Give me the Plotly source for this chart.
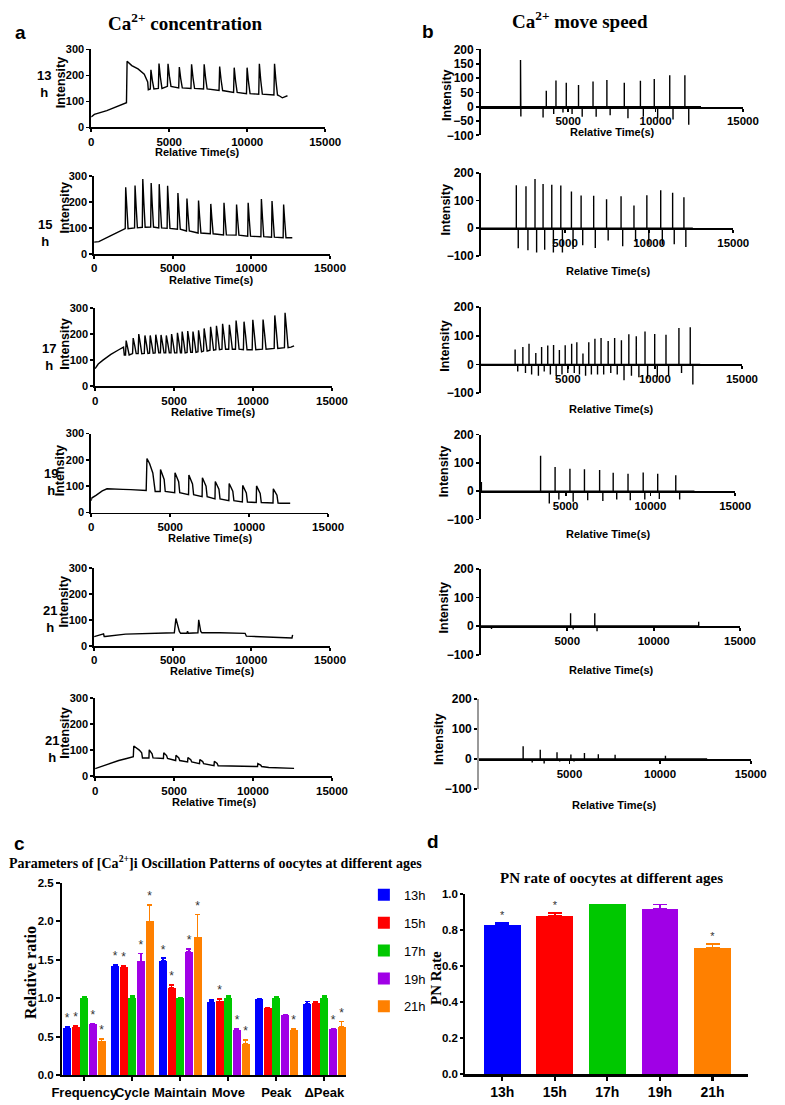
import plotly.graph_objects as go

# ======================= DATA =======================
time_ticks = [0, 5000, 10000, 15000]
time_labels = ["0", "5000", "10000", "15000"]
conc_ticks = [0, 100, 200, 300]
speed_ticks = [-100, 0, 100, 200]
speed_ticks_fine = [-100, -50, 0, 50, 100, 150, 200]

# ---- panel a: Ca2+ concentration traces (time s, intensity) ----
# 13 h
c13_pre_t = [0, 200, 1000, 2000, 2200, 2260, 2300, 2600, 3000, 3400, 3620, 3660]
c13_pre_y = [40, 50, 65, 88, 95, 95, 255, 238, 225, 205, 175, 145]
c13_pk_t = [3828, 4345, 4924, 5648, 6434, 7241, 8234, 9166, 9993, 10779, 11752]
c13_pk_y = [222, 246, 245, 232, 243, 243, 234, 230, 230, 245, 245]
c13_bs_y = [148, 150, 158, 152, 150, 148, 142, 135, 130, 128, 125]
c13_post_t = [12100, 12250, 12400, 12580]
c13_post_y = [120, 114, 118, 122]
# 15 h
c15_pre_t = [0, 300, 1000, 1900]
c15_pre_y = [45, 47, 68, 95]
c15_pk_t = [2008, 2602, 3094, 3627, 4139, 4672, 5328, 5902, 6639, 7418, 8258, 9057, 9795, 10635, 11311, 12049]
c15_pk_y = [256, 263, 288, 272, 268, 262, 234, 213, 205, 192, 196, 190, 196, 211, 203, 190]
c15_bs_y = [97, 100, 102, 103, 100, 98, 95, 88, 80, 77, 73, 72, 68, 66, 64, 62]
c15_post_t = [12600]
c15_post_y = [62]
# 17 h
c17_pre_t = [0, 200, 500, 1000, 1500, 1800, 1850]
c17_pre_y = [67, 85, 100, 122, 140, 150, 120]
c17_pk_t = [1968, 2413, 2766, 3156, 3490, 3843, 4177, 4511, 4845, 5216, 5514, 5866, 6200,
            6553, 6906, 7314, 7686, 8075, 8502, 8929, 9431, 9988, 10637, 11380, 12030]
c17_pk_y = [175, 185, 200, 195, 195, 198, 197, 195, 200, 205, 210, 212, 210,
            215, 222, 228, 232, 240, 236, 252, 248, 255, 256, 272, 282]
c17_bs_y = [120, 125, 125, 126, 127, 128, 128, 128, 128, 128, 128, 130, 130,
            132, 135, 138, 140, 142, 142, 142, 140, 140, 142, 145, 148]
c17_post_t = [12400, 12600]
c17_post_y = [150, 155]
# 19 h
c19_pre_t = [0, 30, 300, 700, 1000, 1500, 2000, 2500, 3000, 3480, 3530, 3700, 3900, 3960, 4050]
c19_pre_y = [45, 55, 65, 82, 90, 88, 88, 87, 86, 84, 205, 185, 150, 120, 80]
c19_pk_t = [4388, 5306, 6184, 7041, 7857, 8735, 9592, 10469, 11531]
c19_pk_y = [163, 151, 142, 132, 118, 110, 103, 101, 90]
c19_bs_y = [80, 75, 68, 60, 52, 45, 40, 38, 36]
c19_post_t = [12000, 12600]
c19_post_y = [35, 35]
# 21 h (first oocyte)
c21a_t = [0, 300, 600, 640, 700, 2000, 4000, 5100, 5200, 5300, 5420, 5500, 5900, 5940, 5990,
          6600, 6650, 6780, 6850, 8000, 9600, 9680, 11000, 12000, 12580, 12620]
c21a_y = [35, 40, 46, 36, 36, 45, 48, 50, 105, 80, 55, 48, 48, 56, 48,
          50, 100, 55, 50, 50, 48, 37, 33, 30, 30, 42]
# 21 h (second oocyte)
c21b_pre_t = [0, 500, 1000, 1500, 2000, 2420, 2450, 2600, 2800, 2950, 3000]
c21b_pre_y = [29, 40, 50, 60, 68, 75, 116, 110, 100, 90, 70]
c21b_pk_t = [3429, 4347, 5122, 5878, 6633, 7551, 10306]
c21b_pk_y = [101, 90, 80, 71, 64, 57, 48]
c21b_bs_y = [70, 68, 60, 55, 48, 40, 37]
c21b_post_t = [11000, 12000, 12600]
c21b_post_y = [33, 30, 30]

# ---- panel b: Ca2+ move speed spikes ----
s13_pos_t = [2269, 3745, 4299, 4889, 5590, 6421, 7214, 8210, 9133, 9926, 10812, 11679]
s13_pos_v = [163, 56, 92, 84, 76, 88, 93, 84, 91, 97, 110, 110]
s13_neg_t = [2290, 3561, 4170, 4700, 5221, 5800, 6600, 7400, 8420, 9300, 10120, 11000, 11900]
s13_neg_v = [-34, -38, -25, -20, -25, -35, -35, -30, -40, -35, -40, -45, -63]

s15_pos_t = [2107, 2682, 3218, 3697, 4215, 4751, 5383, 5958, 6705, 7471, 8333, 9100, 9866, 10690, 11398, 12069]
s15_pos_v = [155, 152, 178, 160, 157, 154, 133, 118, 117, 105, 115, 82, 119, 137, 128, 112]
s15_neg_t = [2222, 2797, 3314, 3793, 4310, 4847, 5479, 6054, 6801, 7567, 8429, 9195, 9981, 10785, 11494, 12184]
s15_neg_v = [-73, -80, -88, -78, -88, -88, -75, -62, -72, -45, -65, -48, -60, -60, -58, -68]

s17_pos_t = [1968, 2413, 2766, 3156, 3490, 3843, 4177, 4511, 4845, 5216, 5514, 5866, 6200,
             6553, 6906, 7314, 7686, 8075, 8502, 8929, 9431, 9988, 10637, 11380, 12030]
s17_pos_v = [52, 61, 72, 40, 61, 66, 68, 50, 67, 72, 77, 38, 77, 90, 92, 82, 92, 84, 105, 98, 115, 106, 104, 127, 130]
s17_neg_t = [2118, 2563, 2916, 3306, 3640, 3993, 4327, 4661, 4995, 5366, 5664, 6016, 6350,
             6703, 7056, 7464, 7836, 8225, 8652, 9079, 9581, 10138, 10787, 11530, 12180]
s17_neg_v = [-25, -30, -35, -40, -25, -35, -40, -35, -30, -30, -35, -40, -35,
             -35, -35, -30, -35, -55, -40, -45, -50, -45, -40, -30, -70]

s19_pos_t = [30, 3522, 4378, 5254, 6110, 7005, 7805, 8680, 9575, 10431, 11497]
s19_pos_v = [32, 125, 85, 79, 77, 75, 65, 61, 66, 61, 56]
s19_neg_t = [4036, 4600, 5444, 6301, 7195, 8014, 8813, 9670, 10527, 11726]
s19_neg_v = [-44, -30, -38, -32, -35, -30, -32, -30, -28, -30]

s21a_pos_t = [5193, 6594, 12609]
s21a_pos_v = [45, 45, 15]
s21a_neg_t = [616, 5342, 6725]
s21a_neg_v = [-10, -12, -18]

s21b_pos_t = [2440, 3385, 4311, 5077, 5825, 6591, 7518, 10297]
s21b_pos_v = [43, 31, 23, 15, 20, 16, 14, 11]
s21b_neg_t = [2940, 3600, 4460, 5250, 6000, 6750, 7650, 10450]
s21b_neg_v = [-12, -15, -8, -8, -6, -6, -5, -4]

ages_a = ["13", "15", "17", "19", "21", "21"]

# ---- panel c: oscillation parameters ----
param_groups = ["Frequency", "Cycle", "Maintain", "Move", "Peak", "ΔPeak"]
age_labels = ["13h", "15h", "17h", "19h", "21h"]
ratio_13h = [0.62, 1.42, 1.49, 0.95, 0.99, 0.93]
ratio_15h = [0.63, 1.40, 1.14, 0.96, 0.88, 0.94]
ratio_17h = [1.01, 1.01, 1.01, 1.01, 1.01, 1.01]
ratio_19h = [0.66, 1.48, 1.60, 0.59, 0.78, 0.60]
ratio_21h = [0.44, 2.00, 1.79, 0.41, 0.59, 0.63]
err_13h = [0.005, 0.02, 0.03, 0.03, 0.01, 0.03]
err_15h = [0.01, 0.02, 0.03, 0.03, 0.0, 0.02]
err_17h = [0.01, 0.02, 0.0, 0.02, 0.01, 0.02]
err_19h = [0.01, 0.10, 0.04, 0.01, 0.01, 0.01]
err_21h = [0.03, 0.21, 0.30, 0.05, 0.02, 0.07]
sig_13h = [1, 1, 1, 0, 0, 0]
sig_15h = [1, 1, 1, 1, 0, 0]
sig_17h = [0, 0, 0, 0, 0, 0]
sig_19h = [1, 1, 1, 1, 0, 1]
sig_21h = [1, 1, 1, 1, 1, 1]

# ---- panel d: PN rate ----
pn_rate = [0.825, 0.875, 0.94, 0.915, 0.70]
pn_err = [0.012, 0.018, 0.0, 0.025, 0.022]
pn_sig = [1, 1, 0, 0, 1]

# ======================= STYLE / LAYOUT =======================
W, H = 785, 1105
COLORS = ["#0000FF", "#FF0000", "#00C800", "#A000E6", "#FF8000"]
SANS = "Liberation Sans"
SERIF = "Liberation Serif"


def px(x):
    return x / W


def py(y):
    return 1 - y / H


A_BOX = [(84, 326, 43, 122), (87, 331, 171, 250), (88, 333, 305, 384),
         (84, 329, 432, 512), (87, 331, 568, 647), (88, 333, 700, 779)]
B_BOX = [(487, 758, 43, 130), (487, 748, 168, 252), (487, 757, 304, 391),
         (487, 750, 433, 519), (487, 755, 569, 656), (485, 766, 701, 792)]
A_TITLE_POS = [(194, 147), (208, 276), (210, 410), (207, 538), (209, 673), (211, 805)]
B_TITLE_POS = [(623, 127), (619, 267), (622, 407), (619, 534), (622, 672), (625, 808)]
A_INT_POS = [(53, 77), (57, 204), (57, 342), (52, 470), (56, 603), (57, 736)]
B_INT_POS = [(452, 90), (451, 206), (450, 344), (449, 471), (449, 609), (443, 742)]
A_AGE_POS = [(35, 78), (36, 229), (40, 354), (42, 481), (41, 620), (43, 752)]
C_BOX = (54, 348, 887, 1082)
D_BOX = (471, 763, 898, 1081)


def ca_points(pre_t, pre_y, pk_t, pk_y, bs_y, post_t, post_y, rise, shoulder, frac, fall):
    xs, ys = list(pre_t), list(pre_y)
    for t, p, b in zip(pk_t, pk_y, bs_y):
        xs += [t - rise, t, t + shoulder, t + fall]
        ys += [b, p, b + frac * (p - b), b]
    xs += list(post_t)
    ys += list(post_y)
    return xs, ys


def spike_points(pos_t, pos_v, neg_t, neg_v, end_t=12600):
    ev = sorted(list(zip(pos_t, pos_v)) + list(zip(neg_t, neg_v)))
    xs, ys = [0], [0]
    for t, v in ev:
        xs += [t, t, t]
        ys += [0, v, 0]
    xs.append(max(end_t, ev[-1][0]))
    ys.append(0)
    return xs, ys


conc_series = [
    ca_points(c13_pre_t, c13_pre_y, c13_pk_t, c13_pk_y, c13_bs_y, c13_post_t, c13_post_y, 40, 90, 0.45, 190),
    ca_points(c15_pre_t, c15_pre_y, c15_pk_t, c15_pk_y, c15_bs_y, c15_post_t, c15_post_y, 30, 70, 0.5, 150),
    ca_points(c17_pre_t, c17_pre_y, c17_pk_t, c17_pk_y, c17_bs_y, c17_post_t, c17_post_y, 40, 100, 0.5, 190),
    ca_points(c19_pre_t, c19_pre_y, c19_pk_t, c19_pk_y, c19_bs_y, c19_post_t, c19_post_y, 20, 230, 0.55, 300),
    (c21a_t, c21a_y),
    ca_points(c21b_pre_t, c21b_pre_y, c21b_pk_t, c21b_pk_y, c21b_bs_y, c21b_post_t, c21b_post_y, 20, 180, 0.5, 240),
]
speed_series = [
    spike_points(s13_pos_t, s13_pos_v, s13_neg_t, s13_neg_v),
    spike_points(s15_pos_t, s15_pos_v, s15_neg_t, s15_neg_v),
    spike_points(s17_pos_t, s17_pos_v, s17_neg_t, s17_neg_v),
    spike_points(s19_pos_t, s19_pos_v, s19_neg_t, s19_neg_v),
    spike_points(s21a_pos_t, s21a_pos_v, s21a_neg_t, s21a_neg_v),
    spike_points(s21b_pos_t, s21b_pos_v, s21b_neg_t, s21b_neg_v),
]


def axis_style(size, lw=1.8, tl=3):
    return dict(showline=True, linecolor="black", linewidth=lw, ticks="outside", ticklen=tl,
                tickwidth=lw, tickcolor="black", showgrid=False, zeroline=False, tickangle=0,
                tickfont=dict(family=SANS, size=size, color="black", weight="bold"))


fig = go.Figure()
layout = dict(width=W, height=H, margin=dict(l=0, r=0, t=0, b=0, pad=0),
              paper_bgcolor="white", plot_bgcolor="white")
annotations = []


def ann(text, x, y, size, family=SANS, angle=0, xanchor="center"):
    annotations.append(dict(text=text, x=px(x), y=py(y), xref="paper", yref="paper",
                            showarrow=False, xanchor=xanchor, yanchor="middle", textangle=angle,
                            borderpad=0,
                            font=dict(family=family, size=size, color="black")))


# ---- panel a ----
for i in range(6):
    n = i + 1
    x0, x1, y0, y1 = A_BOX[i]
    xs, ys = conc_series[i]
    fig.add_trace(go.Scatter(x=xs, y=ys, mode="lines", line=dict(color="black", width=1.4),
                             xaxis=f"x{n}", yaxis=f"y{n}", showlegend=False, hoverinfo="skip"))
    xa = axis_style(11.5)
    xa.update(domain=[px(x0), px(x1)], anchor=f"y{n}", range=[0, 15000], tickvals=time_ticks,
              ticktext=time_labels)
    ya = axis_style(11)
    ya.update(domain=[py(y1), py(y0)], anchor=f"x{n}", range=[0, 300], tickvals=conc_ticks)
    layout[f"xaxis{n}"] = xa
    layout[f"yaxis{n}"] = ya
    ann("<b>Relative Time(s)</b>", *A_TITLE_POS[i], 11)
    ann("<b>Intensity</b>", *A_INT_POS[i], 12.5, angle=-90)
    ann(f"<b>{ages_a[i]}<br>h</b>", *A_AGE_POS[i], 13)

# ---- panel b ----
for i in range(6):
    n = i + 7
    x0, x1, y0, y1 = B_BOX[i]
    xs, ys = speed_series[i]
    fig.add_trace(go.Scatter(x=xs, y=ys, mode="lines", line=dict(color="black", width=1.4),
                             xaxis=f"x{n}", yaxis=f"y{n}", showlegend=False, hoverinfo="skip"))
    yzero = y0 + (200 / 300) * (y1 - y0)
    xa = axis_style(11.5)
    xa.update(domain=[px(x0), px(x1)], anchor="free", position=py(yzero), range=[0, 15000],
              tickvals=time_ticks[1:], ticktext=time_labels[1:])
    ya = axis_style(12)
    ya.update(domain=[py(y1), py(y0)], anchor=f"x{n}", range=[-100, 200],
              tickvals=speed_ticks_fine if i == 0 else speed_ticks)
    if i == 5:
        ya.update(linecolor="#999999")
    layout[f"xaxis{n}"] = xa
    layout[f"yaxis{n}"] = ya
    ann("<b>Relative Time(s)</b>", *B_TITLE_POS[i], 11)
    ann("<b>Intensity</b>", *B_INT_POS[i], 12.5, angle=-90)

# ---- panel c ----
ratios = [ratio_13h, ratio_15h, ratio_17h, ratio_19h, ratio_21h]
errs = [err_13h, err_15h, err_17h, err_19h, err_21h]
sigs = [sig_13h, sig_15h, sig_17h, sig_19h, sig_21h]
group_pos = list(range(len(param_groups)))
for k in range(5):
    xs = [g + (k - 2) * 0.18 for g in group_pos]
    fig.add_trace(go.Bar(x=xs, y=ratios[k], width=0.166, marker=dict(color=COLORS[k], line=dict(width=0)),
                         error_y=dict(type="data", symmetric=False, array=errs[k],
                                      arrayminus=[0] * len(errs[k]), color=COLORS[k], thickness=1.5, width=2.5),
                         name=age_labels[k], legendgroup=age_labels[k],
                         xaxis="x13", yaxis="y13", hoverinfo="skip"))
    sx = [x for x, s in zip(xs, sigs[k]) if s]
    sy = [v + e + 0.1 for v, e, s in zip(ratios[k], errs[k], sigs[k]) if s]
    if sx:
        fig.add_trace(go.Scatter(x=sx, y=sy, mode="text", text=["*"] * len(sx),
                                 textfont=dict(family=SANS, size=12, color="#333333"),
                                 xaxis="x13", yaxis="y13", showlegend=False, hoverinfo="skip"))
x0, x1, y0, y1 = C_BOX
xa = axis_style(13, 2.2, 4)
xa.update(domain=[px(x0), px(x1)], anchor="y13", range=[-0.46, 5.46], tickvals=group_pos,
          ticktext=param_groups)
ya = axis_style(11.5, 2.2, 4)
ya.update(domain=[py(y1), py(y0)], anchor="x13", range=[0, 2.5], tickvals=[0, 0.5, 1.0, 1.5, 2.0, 2.5],
          tickformat=".1f")
layout["xaxis13"] = xa
layout["yaxis13"] = ya

# ---- panel d ----
d_pos = list(range(len(age_labels)))
for k in range(len(age_labels)):
    fig.add_trace(go.Bar(x=[d_pos[k]], y=[pn_rate[k]], width=0.70,
                         marker=dict(color=COLORS[k], line=dict(width=0)),
                         error_y=dict(type="data", symmetric=False, array=[pn_err[k]], arrayminus=[0],
                                      color=COLORS[k], thickness=1.5, width=7),
                         xaxis="x14", yaxis="y14", showlegend=False, hoverinfo="skip"))
dsx = [x for x, s in zip(d_pos, pn_sig) if s]
dsy = [v + e + 0.035 for v, e, s in zip(pn_rate, pn_err, pn_sig) if s]
fig.add_trace(go.Scatter(x=dsx, y=dsy, mode="text", text=["*"] * len(dsx),
                         textfont=dict(family=SANS, size=11, color="#333333"),
                         xaxis="x14", yaxis="y14", showlegend=False, hoverinfo="skip"))
x0, x1, y0, y1 = D_BOX
xa = axis_style(14, 2.2, 4)
xa.update(domain=[px(x0), px(x1)], anchor="y14", range=[-0.7, 4.67], tickvals=d_pos, ticktext=age_labels)
ya = axis_style(11.5, 2.2, 3)
ya.update(domain=[py(y1), py(y0)], anchor="x14", range=[0, 1.0], tickvals=[0, 0.2, 0.4, 0.6, 0.8, 1.0],
          tickformat=".1f")
layout["xaxis14"] = xa
layout["yaxis14"] = ya

# ---- titles & panel letters ----
ann("<b>Ca<sup>2+</sup> concentration</b>", 181, 15, 19, family=SERIF)
ann("<b>Ca<sup>2+</sup> move speed</b>", 590, 13, 19, family=SERIF)
ann("<b>a</b>", 11, 26, 19)
ann("<b>b</b>", 432, 25, 19)
ann("<b>c</b>", 10, 847, 19)
ann("<b>d</b>", 438, 845, 19)
ann("<b>Parameters of [Ca<sup>2+</sup>]i Oscillation Patterns of oocytes at different ages</b>", 213, 866, 14,
    family=SERIF)
ann("<b>PN rate of oocytes at different ages</b>", 622, 882, 15, family=SERIF)
ann("<b>Relative ratio</b>", 21, 978, 16, family=SERIF, angle=-90)
ann("<b>PN Rate</b>", 440, 983, 15, family=SERIF, angle=-90)

layout["annotations"] = annotations
layout["showlegend"] = True
layout["legend"] = dict(x=px(366), y=py(884), xanchor="left", yanchor="top",
                        font=dict(family=SANS, size=13, color="black"), tracegroupgap=8,
                        itemwidth=30, bgcolor="rgba(0,0,0,0)")
layout["bargap"] = 0
fig.update_layout(**layout)
fig.write_html("out.html", config={"displayModeBar": False, "staticPlot": True},
               post_script="document.body.style.margin='0';document.body.style.padding='0';"
                           "document.documentElement.style.overflow='hidden';")
